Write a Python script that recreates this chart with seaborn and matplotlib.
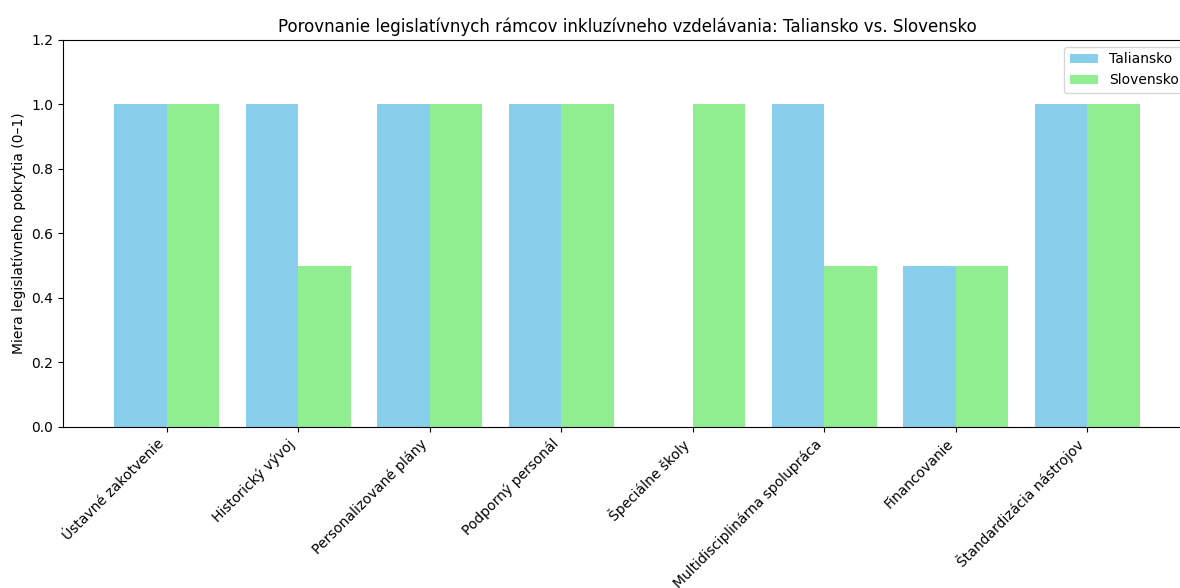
import pandas as pd
import matplotlib
matplotlib.use("Agg")
import matplotlib.pyplot as plt
import seaborn as sns

# Data
categories = [
    'Ústavné zakotvenie',
    'Historický vývoj',
    'Personalizované plány',
    'Podporný personál',
    'Špeciálne školy',
    'Multidisciplinárna spolupráca',
    'Financovanie',
    'Štandardizácia nástrojov',
]
taliansko = [1.0, 1.0, 1.0, 1.0, 0.0, 1.0, 0.5, 1.0]
slovensko = [1.0, 0.5, 1.0, 1.0, 1.0, 0.5, 0.5, 1.0]
countries = ['Taliansko', 'Slovensko']

df = pd.DataFrame({
    'oblast': categories * 2,
    'krajina': [countries[0]] * len(categories) + [countries[1]] * len(categories),
    'hodnota': taliansko + slovensko,
})

# plain matplotlib look
plt.rcParams['font.family'] = ['DejaVu Sans']

fig = plt.figure(figsize=(11.8, 5.88), dpi=100)
ax = fig.add_axes([0.0534, 0.274, 0.956, 0.658])

sns.barplot(data=df, x='oblast', y='hodnota', hue='krajina',
            palette=['skyblue', 'lightgreen'], width=0.8,
            saturation=1, linewidth=0, edgecolor='none', ax=ax)

ax.set_xlim(-0.79, 7.79)
ax.set_ylim(0, 1.2)
ax.set_yticks([0, 0.2, 0.4, 0.6, 0.8, 1.0, 1.2])
ax.set_title('Porovnanie legislatívnych rámcov inkluzívneho vzdelávania: Taliansko vs. Slovensko', fontsize=12)
ax.set_ylabel('Miera legislatívneho pokrytia (0–1)')
ax.set_xlabel('')
plt.setp(ax.get_xticklabels(), rotation=45, ha='right')
ax.legend(title=None, loc='upper right')

fig.savefig('out.png', dpi=100)
